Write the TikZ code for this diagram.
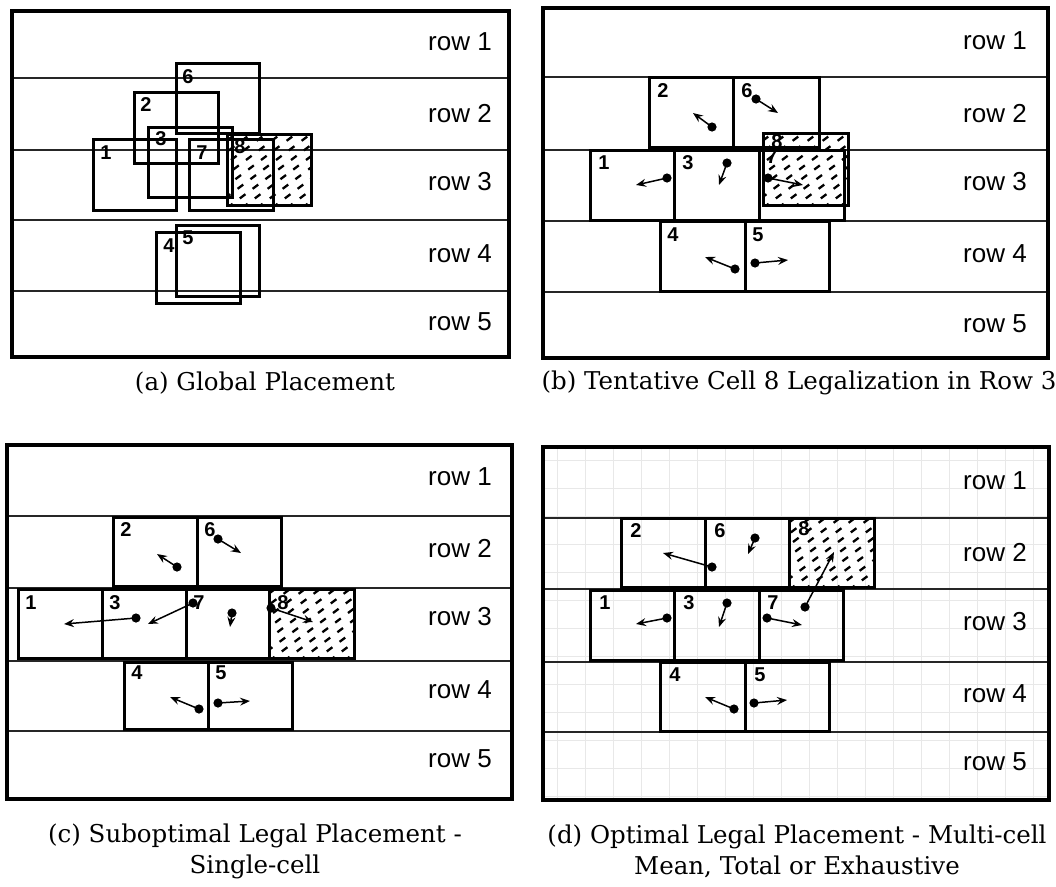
\documentclass[tikz,border=0pt]{standalone}
\usepackage{fontspec}
\setmainfont{DejaVu Serif}
\newfontfamily\rowfont{Liberation Sans}
\usetikzlibrary{arrows.meta}
\tikzset{
 frame/.style={draw, line width=4.2pt},
 rowline/.style={draw, line width=1.4pt, black!85},
 cellbox/.style={draw, line width=3pt},
 hatchline/.style={line width=2.3pt, dash pattern=on 7pt off 9pt},
 num/.style={font=\rowfont\bfseries\fontsize{20}{20}\selectfont, inner sep=0pt},
 rowlab/.style={font=\rowfont\fontsize{26}{26}\selectfont, inner sep=0pt, anchor=base east},
 captext/.style={font=\fontsize{24.5}{31}\selectfont, inner sep=0pt, align=center},
 mv/.style={line width=1.5pt, -{Stealth[length=10pt,width=8pt,inset=3.5pt]}},
 gridl/.style={draw, black!9, line width=0.6pt},
}
\newcommand{\hatchbox}[4]{%
  \begin{scope}
    \clip (#1,#2) rectangle (#3,#4);
    \foreach \k in {-8,...,8} \draw[hatchline] ({#1+\k*15},{#4+3}) -- ++(140,-105);
  \end{scope}}
\newcommand{\mvarrow}[3]{%
  \coordinate (#1s) at (#2);
  \coordinate (#1e) at (#3);
  \draw[mv] (#1s) -- (#1e);
  \fill (#1s) circle (4.6pt);}
\begin{document}
\begin{tikzpicture}[x=1pt,y=-1pt]
\useasboundingbox (0,0) rectangle (1056,886);
\fill[white] (0,0) rectangle (1056,886);

% ================= Panel (a) =================
\foreach \y in {78,150,220,291} \draw[rowline] (12,\y) -- (509,\y);
\hatchbox{227}{134}{311}{205}
\draw[cellbox] (176,63) rectangle (259,133);
\draw[cellbox] (134,92) rectangle (218,163);
\draw[cellbox] (148,127) rectangle (232,197);
\draw[cellbox] (93,139) rectangle (176,210);
\draw[cellbox] (189,139) rectangle (273,210);
\draw[cellbox] (227,134) rectangle (311,205);
\draw[cellbox] (176,225) rectangle (259,296);
\draw[cellbox] (156,232) rectangle (240,303);
\node[num] (a6) at (188,77) {6};
\node[num] (a2) at (146,105) {2};
\node[num] (a3) at (161,139) {3};
\node[num] (a1) at (106,153) {1};
\node[num] (a7) at (202,153) {7};
\node[num] (a8) at (240,147) {8};
\node[num] (a5) at (188,238) {5};
\node[num] (a4) at (169,246) {4};
\node[rowlab] (ar1) at (492,50) {row 1};
\node[rowlab] (ar2) at (492,122) {row 2};
\node[rowlab] (ar3) at (492,190) {row 3};
\node[rowlab] (ar4) at (492,262) {row 4};
\node[rowlab] (ar5) at (492,330) {row 5};
\draw[frame] (12,11) rectangle (509,357);
\node[captext] (capa) at (265,383) {(a) Global Placement};

% ================= Panel (b) =================
\foreach \y in {77,150,221,292} \draw[rowline] (543,\y) -- (1048,\y);
\hatchbox{763}{133}{848}{205}
\draw[cellbox] (649,77) rectangle (733,147);
\draw[cellbox] (733,77) rectangle (819,147);
\draw[cellbox] (590,150) rectangle (674,220);
\draw[cellbox] (674,150) rectangle (759,220);
\draw[cellbox] (759,150) rectangle (844,220);
\draw[cellbox] (763,133) rectangle (848,205);
\draw[cellbox] (660,221) rectangle (745,291);
\draw[cellbox] (745,221) rectangle (829,291);
\node[num] (b2) at (663,91) {2};
\node[num] (b6) at (747,91) {6};
\node[num] (b1) at (604,163) {1};
\node[num] (b3) at (688,163) {3};
\node[num] (b7) at (772,157) {7};
\node[num] (b8) at (777,142) {8};
\node[num] (b4) at (673,235) {4};
\node[num] (b5) at (758,235) {5};
\mvarrow{mb2}{712,127}{693,113}
\mvarrow{mb6}{756,99}{778,113}
\mvarrow{mb1}{667,178}{636,185}
\mvarrow{mb3}{727,163}{719,185}
\mvarrow{mb7}{768,178}{803,185}
\mvarrow{mb4}{735,269}{705,257}
\mvarrow{mb5}{755,263}{788,260}
\node[rowlab] (br1) at (1027,49) {row 1};
\node[rowlab] (br2) at (1027,122) {row 2};
\node[rowlab] (br3) at (1027,190) {row 3};
\node[rowlab] (br4) at (1027,262) {row 4};
\node[rowlab] (br5) at (1027,332) {row 5};
\draw[frame] (543,8) rectangle (1048,358);
\node[captext] (capb) at (799,383) {(b) Tentative Cell 8 Legalization in Row 3};

% ================= Panel (c) =================
\foreach \y in {516,588,661,731} \draw[rowline] (7,\y) -- (512,\y);
\hatchbox{269}{589}{354}{658}
\draw[cellbox] (113,517) rectangle (197,586);
\draw[cellbox] (197,517) rectangle (281,586);
\draw[cellbox] (18,589) rectangle (102,658);
\draw[cellbox] (102,589) rectangle (186,658);
\draw[cellbox] (186,589) rectangle (269,658);
\draw[cellbox] (269,589) rectangle (354,658);
\draw[cellbox] (124,662) rectangle (208,729);
\draw[cellbox] (208,662) rectangle (292,729);
\node[num] (c2) at (126,530) {2};
\node[num] (c6) at (210,530) {6};
\node[num] (c1) at (31,603) {1};
\node[num] (c3) at (115,603) {3};
\node[num] (c7) at (199,603) {7};
\node[num] (c8) at (283,603) {8};
\node[num] (c4) at (137,673) {4};
\node[num] (c5) at (221,673) {5};
\mvarrow{mc2}{177,567}{157,554}
\mvarrow{mc6}{218,539}{241,553}
\mvarrow{mc3}{136,618}{64,624}
\mvarrow{mc7}{193,603}{148,624}
\mvarrow{mcx}{232,613}{230,627}
\mvarrow{mc8}{271,608}{313,622}
\mvarrow{mc4}{199,709}{170,697}
\mvarrow{mc5}{218,703}{250,701}
\node[rowlab] (cr1) at (492,485) {row 1};
\node[rowlab] (cr2) at (492,557) {row 2};
\node[rowlab] (cr3) at (492,625) {row 3};
\node[rowlab] (cr4) at (492,698) {row 4};
\node[rowlab] (cr5) at (492,767) {row 5};
\draw[frame] (7,445) rectangle (512,799);
\node[captext] (capc) at (255,851) {(c) Suboptimal Legal Placement -\\Single-cell};

% ================= Panel (d) =================
\begin{scope}
  \clip (543,447) rectangle (1049,800);
  \foreach \x in {0,...,18} \draw[gridl] ({557+\x*28},447) -- ({557+\x*28},800);
  \foreach \y in {0,...,12} \draw[gridl] (543,{460+\y*28}) -- (1049,{460+\y*28});
\end{scope}
\foreach \y in {518,589,662,732} \draw[rowline] (543,\y) -- (1049,\y);
\hatchbox{789}{518}{874}{587}
\draw[cellbox] (621,518) rectangle (705,587);
\draw[cellbox] (705,518) rectangle (789,587);
\draw[cellbox] (789,518) rectangle (874,587);
\draw[cellbox] (590,590) rectangle (674,660);
\draw[cellbox] (674,590) rectangle (759,660);
\draw[cellbox] (759,590) rectangle (843,660);
\draw[cellbox] (660,662) rectangle (745,731);
\draw[cellbox] (745,662) rectangle (829,731);
\node[num] (d2) at (636,531) {2};
\node[num] (d6) at (720,531) {6};
\node[num] (d8) at (804,529) {8};
\node[num] (d1) at (605,603) {1};
\node[num] (d3) at (689,603) {3};
\node[num] (d7) at (773,603) {7};
\node[num] (d4) at (675,675) {4};
\node[num] (d5) at (760,675) {5};
\mvarrow{md2}{712,567}{663,553}
\mvarrow{md6}{755,538}{748,554}
\mvarrow{md1}{667,618}{636,624}
\mvarrow{md3}{727,603}{719,627}
\mvarrow{md7}{767,618}{802,625}
\mvarrow{mdx}{805,607}{834,552}
\mvarrow{md4}{734,709}{705,697}
\mvarrow{md5}{754,703}{787,700}
\node[rowlab] (dr1) at (1027,489) {row 1};
\node[rowlab] (dr2) at (1027,561) {row 2};
\node[rowlab] (dr3) at (1027,630) {row 3};
\node[rowlab] (dr4) at (1027,702) {row 4};
\node[rowlab] (dr5) at (1027,770) {row 5};
\draw[frame] (543,447) rectangle (1049,800);
\node[captext] (capd) at (797,851) {(d) Optimal Legal Placement - Multi-cell\\Mean, Total or Exhaustive};
\end{tikzpicture}
\end{document}
